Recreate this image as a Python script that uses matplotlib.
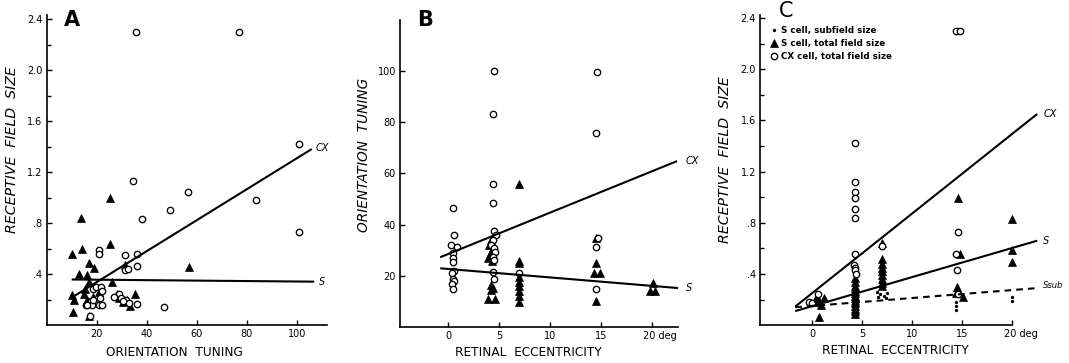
import matplotlib
matplotlib.use("Agg")
import matplotlib.pyplot as plt
import matplotlib.transforms as mtransforms
from matplotlib.lines import Line2D
from matplotlib.ticker import FixedLocator

# ---------------- data ----------------
# Panel A: receptive field size vs orientation tuning
a_cx_tuning = [35.6, 76.9, 101.0, 34.6, 56.7, 83.7, 49.5, 38.3, 101.0, 21.1, 21.1, 31.3,
               36.1, 36.0, 31.2, 32.5, 47.0, 18.4, 19.7, 21.7, 22.1, 21.3, 20.8, 22.1,
               17.7, 15.7, 18.0, 17.5, 29.1, 29.7, 31.7, 32.8, 36.0, 27.0, 30.5, 16.2, 18.5]
a_cx_size = [2.30, 2.30, 1.42, 1.13, 1.04, 0.98, 0.90, 0.83, 0.73, 0.59, 0.556, 0.55,
             0.56, 0.46, 0.43, 0.44, 0.144, 0.28, 0.30, 0.30, 0.27, 0.21, 0.157, 0.157,
             0.19, 0.157, 0.157, 0.073, 0.24, 0.21, 0.20, 0.17, 0.166, 0.22, 0.19, 0.157, 0.2]
a_s_tuning = [25.2, 13.9, 14.0, 25.2, 10.3, 17.0, 19.0, 13.0, 16.0, 16.9, 26.2, 31.3,
              10.1, 11.0, 10.4, 16.8, 35.3, 56.8, 15.0, 16.0, 17.5, 18.5, 21.0, 29.0,
              30.5, 32.0, 33.5, 28.0, 15.5]
a_s_size = [1.00, 0.84, 0.596, 0.635, 0.557, 0.49, 0.445, 0.40, 0.39, 0.335, 0.335, 0.47,
            0.235, 0.196, 0.10, 0.073, 0.243, 0.457, 0.24, 0.20, 0.17, 0.22, 0.26, 0.21,
            0.18, 0.20, 0.15, 0.24, 0.28]
a_cx_fit_x = [10.0, 106.0]
a_cx_fit_y = [0.215, 1.38]
a_s_fit_x = [10.0, 107.0]
a_s_fit_y = [0.357, 0.340]

# Panel B: orientation tuning vs retinal eccentricity
b_cx_ecc = [0.5, 0.6, 0.3, 0.9, 0.5, 0.5, 0.5, 0.6, 0.4, 0.5, 0.6, 0.4, 0.5,
            4.5, 4.4, 4.4, 4.4, 4.5, 4.7, 4.4, 4.2, 4.5, 4.6, 4.4, 4.5, 4.4, 4.5,
            7.0, 14.6, 14.5, 14.7, 14.5, 14.5]
b_cx_tuning = [46.5, 36.0, 32.0, 31.5, 29.0, 27.0, 25.5, 22.0, 21.0, 19.0, 18.0, 17.0, 15.0,
               100.0, 83.0, 56.0, 48.6, 37.6, 36.0, 34.0, 32.0, 30.8, 29.5, 27.6, 26.3, 21.7, 18.8,
               21.0, 99.7, 75.6, 34.7, 31.4, 15.0]
b_s_ecc = [4.2, 4.0, 4.3, 4.1, 3.9, 4.3, 4.2, 4.4, 4.2, 3.9, 4.6,
           7.0, 7.0, 7.0, 7.0, 7.0, 7.0, 7.0, 7.0, 7.0,
           14.5, 14.5, 14.3, 14.9, 14.5, 20.1, 19.8, 20.3]
b_s_tuning = [34.0, 32.0, 30.0, 28.5, 27.0, 26.0, 16.5, 15.5, 14.5, 11.0, 11.0,
              56.0, 26.0, 25.0, 19.7, 17.8, 16.0, 14.2, 12.3, 10.0,
              34.7, 25.0, 21.0, 21.0, 10.4, 17.1, 14.3, 14.0]
b_cx_fit_x = [-0.8, 22.5]
b_cx_fit_y = [27.3, 64.8]
b_s_fit_x = [-0.8, 22.6]
b_s_fit_y = [23.0, 15.3]

# Panel C: receptive field size vs retinal eccentricity
c_cx_ecc = [-0.3, 0.0, 0.6, 4.3, 4.3, 4.3, 4.3, 4.3, 4.3, 4.3, 4.2, 4.3, 4.3, 4.4,
            7.0, 14.4, 14.8, 14.6, 14.4, 14.5, 14.6]
c_cx_size = [0.18, 0.17, 0.24, 1.42, 1.12, 1.04, 0.99, 0.91, 0.84, 0.56, 0.47, 0.45, 0.43, 0.40,
             0.62, 2.30, 2.30, 0.73, 0.56, 0.43, 0.24]
c_s_ecc = [0.3, 0.6, 0.9, 1.2, 0.5, 0.7,
           4.3, 4.3, 4.3, 4.3, 4.3, 4.3, 4.3, 4.3, 4.3, 4.3, 4.3, 4.3, 4.3, 4.3,
           7.0, 7.0, 7.0, 7.0, 7.0, 7.0, 7.0, 7.0, 7.0,
           14.6, 14.8, 14.5, 14.6, 14.4, 15.1,
           20.0, 20.0, 20.0]
c_s_size = [0.20, 0.18, 0.16, 0.21, 0.22, 0.065,
            0.37, 0.34, 0.31, 0.29, 0.27, 0.25, 0.23, 0.21, 0.19, 0.17, 0.15, 0.13, 0.11, 0.09,
            0.64, 0.52, 0.48, 0.45, 0.42, 0.39, 0.36, 0.33, 0.31,
            0.99, 0.56, 0.30, 0.27, 0.25, 0.22,
            0.83, 0.59, 0.49]
c_sub_ecc = [0.3, 0.6, 0.8,
             4.3, 4.3, 4.3, 4.3, 4.3, 4.3, 4.3, 4.3, 4.3,
             6.5, 7.5, 6.8, 7.2, 6.6, 7.4,
             14.4, 14.4, 14.4, 20.0, 20.0]
c_sub_size = [0.19, 0.17, 0.15,
              0.28, 0.25, 0.22, 0.20, 0.18, 0.16, 0.14, 0.12, 0.10,
              0.26, 0.25, 0.24, 0.23, 0.22, 0.21,
              0.18, 0.15, 0.12, 0.22, 0.19]
c_cx_fit_x = [-1.7, 22.5]
c_cx_fit_y = [0.145, 1.65]
c_s_fit_x = [-1.7, 22.5]
c_s_fit_y = [0.11, 0.66]
c_sub_fit_x = [-1.7, 22.5]
c_sub_fit_y = [0.14, 0.29]

size_ticks = [0.4, 0.8, 1.2, 1.6, 2.0, 2.4]
size_ticklabels = [".4", ".8", "1.2", "1.6", "2.0", "2.4"]
size_minor = [0.2, 0.6, 1.0, 1.4, 1.8, 2.2]
tuning_ticks = [20, 40, 60, 80, 100]
tuning_ticklabels = ["20", "40", "60", "80", "100"]
ecc_ticks = [0, 5, 10, 15, 20]
ecc_ticklabels = ["0", "5", "10", "15", "20 deg"]

# ---------------- figure ----------------
W, H = 1069, 363
fig = plt.figure(figsize=(W / 100, H / 100), dpi=100)
plt.rcParams["font.family"] = ["DejaVu Sans"]


def axes_px(left, top, width, height):
    return fig.add_axes([left / W, 1 - (top + height) / H, width / W, height / H])


def style_axes(ax):
    for side in ("top", "right"):
        ax.spines[side].set_visible(False)
    for side in ("left", "bottom"):
        ax.spines[side].set_linewidth(1.2)
    ax.tick_params(which="both", direction="in", width=1.0, labelsize=7, pad=3)
    ax.tick_params(which="major", length=3.5)
    ax.tick_params(which="minor", length=3.0)


circle_kw = dict(marker="o", ls="none", ms=4.6, mfc="white", mec="black", mew=0.95)
tri_kw = dict(marker="^", ls="none", ms=5.4, mfc="black", mec="black", mew=0.5)
dot_kw = dict(marker="o", ls="none", ms=2.4, mfc="black", mec="black", mew=0)
fit_kw = dict(color="black", lw=1.5, solid_capstyle="butt", clip_on=False)
lbl_kw = dict(fontsize=7, style="italic", va="center", ha="left")

# Panel A
axA = axes_px(46.7, 15.2, 280, 309.8)
style_axes(axA)
axA.set_xlim(0, 112)
axA.set_ylim(0, 2.43)
axA.plot(a_s_tuning, a_s_size, **tri_kw)
axA.plot(a_cx_tuning, a_cx_size, **circle_kw)
axA.plot(a_cx_fit_x, a_cx_fit_y, **fit_kw)
axA.plot(a_s_fit_x, a_s_fit_y, **fit_kw)
axA.text(a_cx_fit_x[-1] + 1.5, a_cx_fit_y[-1] + 0.01, "CX", **lbl_kw)
axA.text(a_s_fit_x[-1] + 2.0, a_s_fit_y[-1], "S", **lbl_kw)
axA.set_xticks(tuning_ticks, tuning_ticklabels)
axA.set_yticks(size_ticks, size_ticklabels)
axA.yaxis.set_minor_locator(FixedLocator(size_minor))

# Panel B
axB = axes_px(400, 19.5, 278.1, 307.8)
style_axes(axB)
axB.set_xlim(-4.75, 22.6)
axB.set_ylim(0, 120)
axB.plot(b_s_ecc, b_s_tuning, **tri_kw)
axB.plot(b_cx_ecc, b_cx_tuning, **circle_kw)
axB.plot(b_cx_fit_x, b_cx_fit_y, **fit_kw)
axB.plot(b_s_fit_x, b_s_fit_y, **fit_kw)
axB.text(b_cx_fit_x[-1] + 0.8, b_cx_fit_y[-1], "CX", **lbl_kw)
axB.text(b_s_fit_x[-1] + 0.8, b_s_fit_y[-1], "S", **lbl_kw)
axB.set_xticks(ecc_ticks, ecc_ticklabels)
axB.set_yticks(tuning_ticks, tuning_ticklabels)

# Panel C
axC = axes_px(760.2, 15.4, 280, 309.8)
style_axes(axC)
axC.set_xlim(-5.2, 22.8)
axC.set_ylim(0, 2.42)
axC.spines["bottom"].set_bounds(-5.2, 20)
axC.plot(c_s_ecc, c_s_size, **tri_kw)
axC.plot(c_cx_ecc, c_cx_size, **circle_kw)
axC.plot(c_sub_ecc, c_sub_size, **dot_kw)
axC.plot(c_cx_fit_x, c_cx_fit_y, **fit_kw)
axC.plot(c_s_fit_x, c_s_fit_y, **fit_kw)
axC.plot(c_sub_fit_x, c_sub_fit_y, color="black", lw=1.5, ls=(0, (3.2, 2.4)), clip_on=False)
axC.text(c_cx_fit_x[-1] + 0.6, c_cx_fit_y[-1], "CX", **lbl_kw)
axC.text(c_s_fit_x[-1] + 0.6, c_s_fit_y[-1], "S", **lbl_kw)
axC.text(c_sub_fit_x[-1] + 0.6, c_sub_fit_y[-1] + 0.02, "Ssub", fontsize=6, style="italic",
         va="center", ha="left")
axC.set_xticks(ecc_ticks, ecc_ticklabels)
axC.set_yticks(size_ticks, size_ticklabels)
axC.yaxis.set_minor_locator(FixedLocator(size_minor))

legend_handles = [
    Line2D([], [], **dot_kw),
    Line2D([], [], **tri_kw),
    Line2D([], [], **circle_kw),
]
legend_labels = ["S cell, subfield size", "S cell, total field size", "CX cell, total field size"]
axC.legend(legend_handles, legend_labels, loc="upper left", bbox_to_anchor=(0.035, 0.965),
           frameon=False, handlelength=0.8, handletextpad=0.5,
           labelspacing=0.45, borderpad=0, borderaxespad=0,
           prop=dict(size=6.3, weight="bold"))

# "20 deg" labels: centre the number under its tick
shift = mtransforms.ScaledTranslation(-6 / 72, 0, fig.dpi_scale_trans)
for ax in (axB, axC):
    lbl = ax.xaxis.get_major_ticks()[-1].label1
    lbl.set_horizontalalignment("left")
    lbl.set_transform(lbl.get_transform() + shift)

# Axis titles
def fig_text(px, py, s, **kw):
    fig.text(px / W, 1 - py / H, s, ha="center", va="center", **kw)

fig_text(12, 150, "RECEPTIVE  FIELD  SIZE", rotation=90, fontsize=10.2, style="italic")
fig_text(174, 353, "ORIENTATION  TUNING", fontsize=8.7)
fig_text(364, 155, "ORIENTATION  TUNING", rotation=90, fontsize=9.8, style="italic")
fig_text(528, 352, "RETINAL  ECCENTRICITY", fontsize=8.7)
fig_text(725, 160, "RECEPTIVE  FIELD  SIZE", rotation=90, fontsize=10.2, style="italic")
fig_text(895, 350, "RETINAL  ECCENTRICITY", fontsize=8.7)

# Panel letters
fig_text(72, 20, "A", fontsize=15, weight="bold")
fig_text(425, 20, "B", fontsize=15, weight="bold")
fig_text(786, 11, "C", fontsize=15)

fig.savefig("out.png", dpi=100, facecolor="white")
